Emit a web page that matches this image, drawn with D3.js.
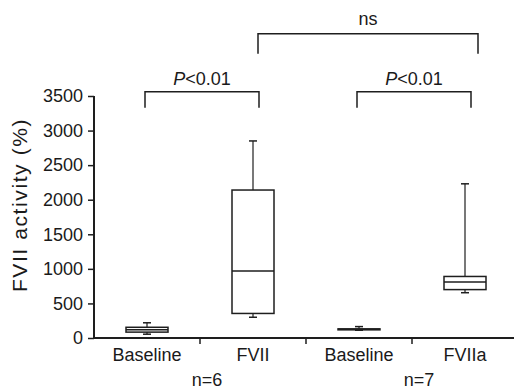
<!DOCTYPE html>
<html>
<head>
<meta charset="utf-8">
<script src="https://cdn.jsdelivr.net/npm/d3@7"></script>
<style>
  body { margin: 0; background: #fff; }
  text { font-family: "Liberation Sans", Arial, sans-serif; fill: #1a1a1a; }
</style>
</head>
<body>
<div id="chart"></div>
<script>
// box plot values (FVII activity, %)
const categories = ["Baseline", "FVII", "Baseline ", "FVIIa"];
const mins    = [55, 300, 112, 655];
const q1s     = [85, 355, 118, 700];
const medians = [120, 970, 125, 810];
const q3s     = [155, 2140, 132, 890];
const maxs    = [220, 2850, 165, 2230];
const yTicks  = [0, 500, 1000, 1500, 2000, 2500, 3000, 3500];
const groupLabels = ["n=6", "n=7"];

// significance brackets: from, to, bracket level, label
const brackets = [
  { from: 0, to: 1, level: 3560, drop: 3330, label: "P<0.01", italic: true },
  { from: 2, to: 3, level: 3560, drop: 3330, label: "P<0.01", italic: true },
  { from: 1, to: 3, level: 4400, drop: 4110, label: "ns", italic: false }
];

let height = 389,
    width = 514,
    margin = ({ top: 96, right: 0, bottom: 51, left: 94 });

const svg = d3.select("#chart")
  .append("svg")
  .attr("width", width)
  .attr("height", height);

const data = categories.map((c, i) => ({
  cat: c, min: mins[i], q1: q1s[i], med: medians[i], q3: q3s[i], max: maxs[i]
}));

let x = d3.scaleBand()
  .domain(categories)
  .range([margin.left, 518]);

let y = d3.scaleLinear()
  .domain([0, 3500])
  .range([height - margin.bottom, margin.top]);

const cx = i => x(categories[i]) + x.bandwidth() / 2;
const boxW = 42;
const ink = "#1e1e1e";

// y axis
const yAxis = svg.append("g")
  .attr("transform", `translate(${margin.left},0)`)
  .call(d3.axisLeft(y).tickValues(yTicks).tickSize(6).tickPadding(5).tickFormat(d3.format("d")));
yAxis.select(".domain").attr("stroke", ink).attr("stroke-width", 2).attr("d", `M0,${y(0)}V${y(3500)}`);
yAxis.selectAll(".tick line").attr("stroke", ink).attr("stroke-width", 1.5);
yAxis.selectAll(".tick text").attr("font-size", 18).attr("font-family", "Liberation Sans, Arial, sans-serif").attr("fill", ink);

// x axis
const xAxis = svg.append("g")
  .attr("transform", `translate(0,${y(0)})`)
  .call(d3.axisBottom(x).tickSize(0).tickPadding(10));
xAxis.select(".domain").attr("stroke", ink).attr("stroke-width", 2).attr("d", `M${margin.left},0H${width}`);
xAxis.selectAll(".tick text").attr("font-size", 18).attr("font-family", "Liberation Sans, Arial, sans-serif").attr("fill", ink).attr("dy", "0.71em");

// tick marks between categories
svg.append("g")
  .selectAll("line")
  .data(categories.slice(1))
  .join("line")
  .attr("x1", d => x(d)).attr("x2", d => x(d))
  .attr("y1", y(0)).attr("y2", y(0) + 6)
  .attr("stroke", ink).attr("stroke-width", 1.5);

// group n labels
svg.append("g")
  .selectAll("text")
  .data(groupLabels)
  .join("text")
  .attr("x", (d, i) => x(categories[i * 2 + 1]) + 7)
  .attr("y", 386)
  .attr("text-anchor", "middle")
  .attr("font-size", 18)
  .text(d => d);

// y label
svg.append("text")
  .attr("transform", `translate(27,${(y(0) + y(3500)) / 2 - 12}) rotate(-90)`)
  .attr("text-anchor", "middle")
  .attr("font-size", 21)
  .attr("letter-spacing", 1.6)
  .text("FVII activity (%)");

// boxes
const g = svg.append("g").attr("stroke", ink).attr("fill", "none");
data.forEach((d, i) => {
  const c = cx(i);
  g.append("line") // whisker
    .attr("x1", c).attr("x2", c)
    .attr("y1", y(d.min)).attr("y2", y(d.max))
    .attr("stroke-width", 1.2);
  [d.min, d.max].forEach(v => {
    g.append("line")
      .attr("x1", c - 4).attr("x2", c + 4)
      .attr("y1", y(v)).attr("y2", y(v))
      .attr("stroke-width", 1.5);
  });
  g.append("rect")
    .attr("x", c - boxW / 2).attr("width", boxW)
    .attr("y", y(d.q3)).attr("height", y(d.q1) - y(d.q3))
    .attr("fill", "#fff")
    .attr("stroke-width", 1.5);
  g.append("line")
    .attr("x1", c - boxW / 2).attr("x2", c + boxW / 2)
    .attr("y1", y(d.med)).attr("y2", y(d.med))
    .attr("stroke-width", 1.5);
});

// brackets
brackets.forEach(b => {
  const x1 = cx(b.from) + (b.from === 1 ? 5 : -2);
  const x2 = cx(b.to) + (b.from === 1 ? 13 : 6);
  svg.append("path")
    .attr("d", `M${x1},${y(b.drop)}V${y(b.level)}H${x2}V${y(b.drop)}`)
    .attr("fill", "none")
    .attr("stroke", ink)
    .attr("stroke-width", 1.5);
  const t = svg.append("text")
    .attr("x", (x1 + x2) / 2)
    .attr("y", y(b.level) - (b.italic ? 7 : 9))
    .attr("text-anchor", "middle")
    .attr("font-size", 18);
  if (b.italic) {
    t.append("tspan").attr("font-style", "italic").text("P");
    t.append("tspan").text(b.label.slice(1));
  } else {
    t.text(b.label);
  }
});
</script>
</body>
</html>
